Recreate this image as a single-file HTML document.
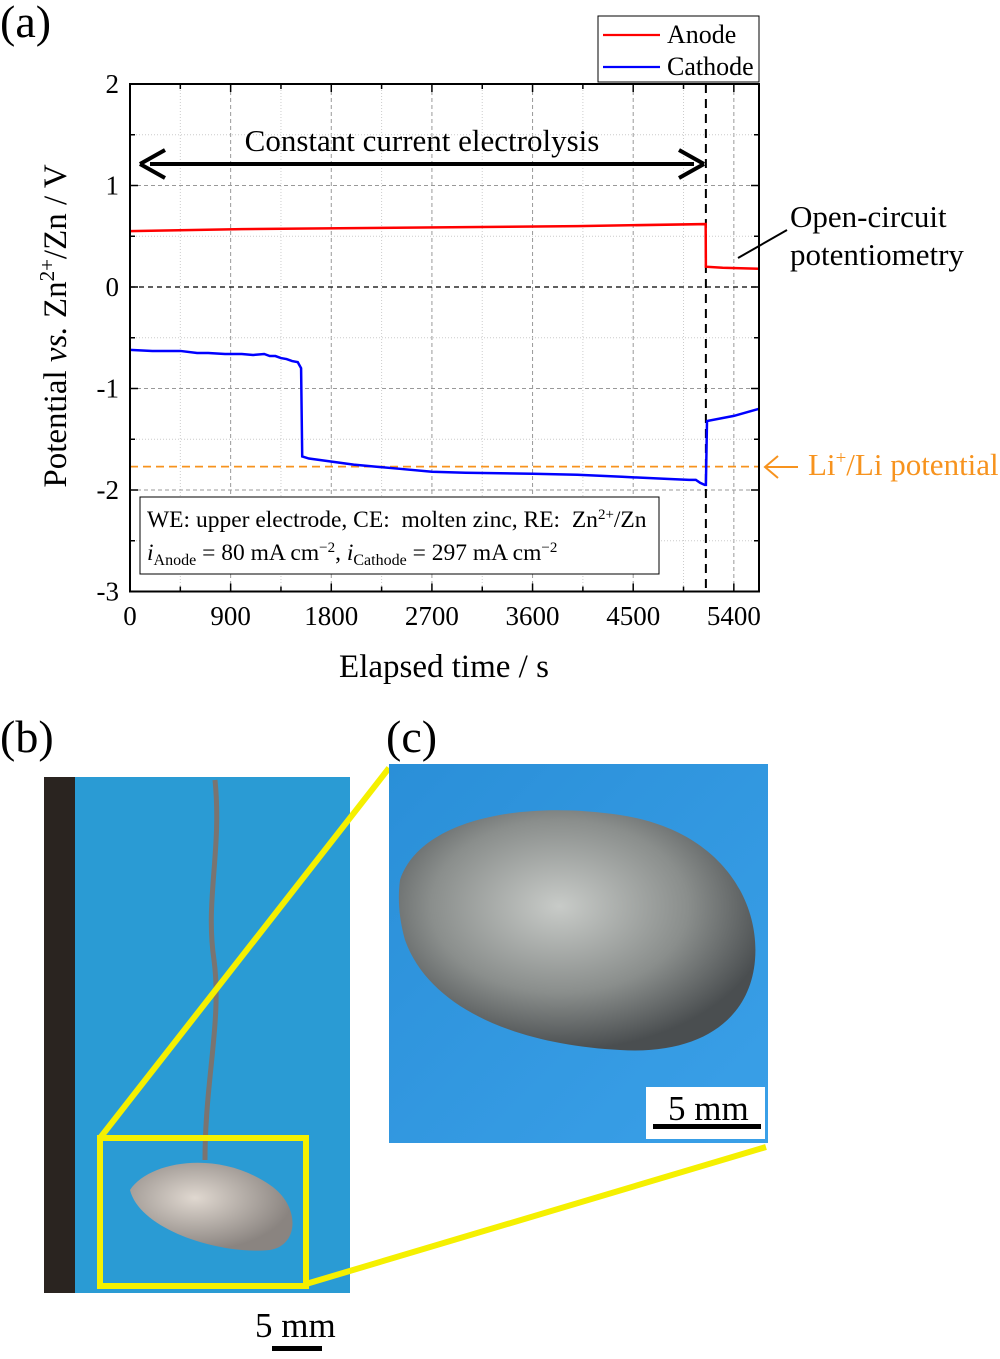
<!DOCTYPE html>
<html><head><meta charset="utf-8"><style>
body{margin:0;background:#fff;width:1000px;height:1354px;overflow:hidden;font-family:"Liberation Serif",serif}
</style></head><body>
<svg width="1000" height="1354" xmlns="http://www.w3.org/2000/svg" font-family="Liberation Serif, serif">
<defs>
<radialGradient id="peb" cx="0.45" cy="0.4" r="0.6"><stop offset="0" stop-color="#c8cbc8"/><stop offset="0.6" stop-color="#8a8e8c"/><stop offset="1" stop-color="#4a4e50"/></radialGradient>
<radialGradient id="peb2" cx="0.4" cy="0.4" r="0.6"><stop offset="0" stop-color="#e0d8d0"/><stop offset="1" stop-color="#8a8480"/></radialGradient>
<linearGradient id="bgc" x1="0" y1="0" x2="1" y2="1"><stop offset="0" stop-color="#2a8fd8"/><stop offset="1" stop-color="#3aa0e8"/></linearGradient>
</defs>
<text x="0" y="37" font-size="46">(a)</text>
<g id="chart"></g>
<text x="0" y="752" font-size="46">(b)</text>
<g>
<rect x="44" y="777" width="306" height="516" fill="#2a9bd4"/>
<rect x="44" y="777" width="31" height="516" fill="#2a2420"/>
<path d="M215 780 C222 850 205 900 214 960 C222 1020 205 1080 205 1160" stroke="#7a7470" stroke-width="5" fill="none"/>
<path d="M130 1190 C150 1160 220 1150 270 1185 C300 1205 300 1245 270 1250 C220 1255 140 1230 130 1190Z" fill="url(#peb2)"/>
</g>
<rect x="100" y="1138" width="206" height="148" fill="none" stroke="#f5f000" stroke-width="6"/>
<line x1="100" y1="1138" x2="389" y2="768" stroke="#f5f000" stroke-width="6"/>
<line x1="306" y1="1284" x2="766" y2="1147" stroke="#f5f000" stroke-width="6"/>
<text x="255" y="1337" font-size="35">5 mm</text>
<rect x="272" y="1346" width="50" height="5" fill="#000"/>
<text x="386" y="752" font-size="46">(c)</text>
<g>
<rect x="389" y="764" width="379" height="379" fill="url(#bgc)"/>
<path d="M400 880 C420 820 520 800 620 815 C720 830 760 900 755 960 C750 1020 700 1055 620 1050 C520 1045 430 1010 405 940 C398 915 398 895 400 880Z" fill="url(#peb)"/>
<rect x="646" y="1087" width="119" height="52" fill="#fff"/>
</g>
<text x="668" y="1120" font-size="35">5 mm</text>
<rect x="653" y="1124" width="108" height="5" fill="#000"/>
</svg>
<script>
const xTicks=[0,900,1800,2700,3600,4500,5400];
const yTicks=[2,1,0,-1,-2,-3];
const anodeT=[0,1000,2000,3000,4000,5148,5150,5300,5625];
const anodeV=[0.55,0.57,0.58,0.59,0.60,0.62,0.20,0.19,0.18];
const cathT=[0,200,450,600,700,850,1000,1100,1200,1250,1300,1350,1400,1450,1500,1530,1540,1600,2000,2400,2700,3000,3600,4000,4400,4800,5000,5060,5100,5140,5150,5160,5400,5625];
const cathV=[-0.62,-0.63,-0.63,-0.65,-0.65,-0.66,-0.66,-0.67,-0.66,-0.68,-0.68,-0.70,-0.71,-0.73,-0.74,-0.8,-1.67,-1.69,-1.75,-1.79,-1.82,-1.83,-1.84,-1.85,-1.87,-1.89,-1.9,-1.9,-1.93,-1.95,-1.95,-1.32,-1.27,-1.2];
const liPotential=-1.77;
const ocpStart=5150;
const X0=130,X1=759,Y0=84,Y1=591.5,xmax=5625;
const x=t=>X0+(t/xmax)*(X1-X0);
const y=v=>Y0+(2-v)/5*(Y1-Y0);
const ns="http://www.w3.org/2000/svg";
const g=document.getElementById('chart');
function mk(tag,a,parent){const e=document.createElementNS(ns,tag);for(const k in a)e.setAttribute(k,a[k]);(parent||g).appendChild(e);return e;}
for(let t=450;t<xmax;t+=450){const major=t%900===0;const l=mk('line',{x1:x(t),x2:x(t),y1:Y0,y2:Y1,stroke:major?'#999':'#ccc','stroke-width':1,'stroke-dasharray':major?'4,3':'1,2'});

}
for(let v=-2.5;v<2;v+=0.5){if(v===0)continue;const major=Number.isInteger(v);const l=mk('line',{x1:X0,x2:X1,y1:y(v),y2:y(v),stroke:major?'#999':'#ccc','stroke-width':1,'stroke-dasharray':major?'4,3':'1,2'});

}
const zl=mk('line',{x1:X0,x2:X1,y1:y(0),y2:y(0),stroke:'#000','stroke-width':1.3,'stroke-dasharray':'5,4'});


const li=mk('line',{x1:X0,x2:X1,y1:y(liPotential),y2:y(liPotential),stroke:'#f7931e','stroke-width':1.8,'stroke-dasharray':'8,5'});


const vl=mk('line',{x1:x(ocpStart),x2:x(ocpStart),y1:Y0,y2:Y1,stroke:'#000','stroke-width':2,'stroke-dasharray':'9,6'});


function poly(T,V,c,name){const p=mk('polyline',{points:T.map((t,i)=>x(t)+','+y(V[i])).join(' '),fill:'none',stroke:c,'stroke-width':2.5});

}
poly(anodeT,anodeV,'#ff0000','anode-line');
poly(cathT,cathV,'#0000ff','cathode-line');
const fr=mk('rect',{x:X0,y:Y0,width:X1-X0,height:Y1-Y0,fill:'none',stroke:'#000','stroke-width':2});


for(let t=450;t<xmax;t+=450){const L=t%900===0?8:5;mk('line',{x1:x(t),x2:x(t),y1:Y1,y2:Y1-L,stroke:'#000','stroke-width':1.5});mk('line',{x1:x(t),x2:x(t),y1:Y0,y2:Y0+L,stroke:'#000','stroke-width':1.5});}
for(let v=-2.5;v<2;v+=0.5){const L=Number.isInteger(v)?8:5;mk('line',{x1:X0,x2:X0+L,y1:y(v),y2:y(v),stroke:'#000','stroke-width':1.5});mk('line',{x1:X1,x2:X1-L,y1:y(v),y2:y(v),stroke:'#000','stroke-width':1.5});}
xTicks.forEach(t=>{const e=mk('text',{x:x(t),y:625,'font-size':27,'text-anchor':'middle'});e.textContent=t;

});
yTicks.forEach(v=>{const e=mk('text',{x:119,y:y(v)+9,'font-size':27,'text-anchor':'end'});e.textContent=v;

});
</script>
<svg width="1000" height="700" style="position:absolute;left:0;top:0" font-family="Liberation Serif, serif">
<text x="444" y="677" font-size="33" text-anchor="middle">Elapsed time / s</text>
<text transform="translate(66,326) rotate(-90)" font-size="33" text-anchor="middle">Potential <tspan font-style="italic">vs.</tspan> Zn<tspan font-size="21" dy="-12">2+</tspan><tspan dy="12">/Zn / V</tspan></text>
<g>
<rect x="598" y="16" width="161" height="66" fill="#fff" stroke="#000" stroke-width="1"/>
<line x1="603" y1="35" x2="660" y2="35" stroke="#ff0000" stroke-width="2.2"/>
<text x="667" y="43" font-size="26">Anode</text>
<line x1="603" y1="67" x2="660" y2="67" stroke="#0000ff" stroke-width="2.2"/>
<text x="667" y="75" font-size="26">Cathode</text>
</g>
<text x="422" y="151" font-size="31" text-anchor="middle">Constant current electrolysis</text>
<g>
<line x1="150" y1="164" x2="694" y2="164" stroke="#000" stroke-width="4"/>
<path d="M140 164 L165 150 M140 164 L165 178" stroke="#000" stroke-width="4" fill="none"/>
<path d="M704 164 L679 150 M704 164 L679 178" stroke="#000" stroke-width="4" fill="none"/>
</g>
<line x1="738" y1="258" x2="787" y2="230" stroke="#000" stroke-width="2"/>
<text x="790" y="227" font-size="31">Open-circuit</text>
<text x="790" y="265" font-size="31">potentiometry</text>
<path d="M798 467 L765 467 M778 456 L765 467 L778 478" stroke="#f7931e" stroke-width="2" fill="none"/>
<text x="808" y="475" font-size="31" fill="#f7931e">Li<tspan font-size="19" dy="-11">+</tspan><tspan dy="11">/Li potential</tspan></text>
<g>
<rect x="140" y="497" width="519" height="77" fill="#fff" stroke="#000" stroke-width="1"/>
<text x="147" y="527" font-size="23.5">WE: upper electrode, CE:&#160; molten zinc, RE:&#160; Zn<tspan font-size="15" dy="-8">2+</tspan><tspan dy="8">/Zn</tspan></text>
<text x="147" y="560" font-size="23.5"><tspan font-style="italic">i</tspan><tspan font-size="16" dy="5">Anode</tspan><tspan dy="-5"> = 80 mA cm</tspan><tspan font-size="15" dy="-8">−2</tspan><tspan dy="8">, </tspan><tspan font-style="italic">i</tspan><tspan font-size="16" dy="5">Cathode</tspan><tspan dy="-5"> = 297 mA cm</tspan><tspan font-size="15" dy="-8">−2</tspan></text>
</g>
</svg>
</body></html>
